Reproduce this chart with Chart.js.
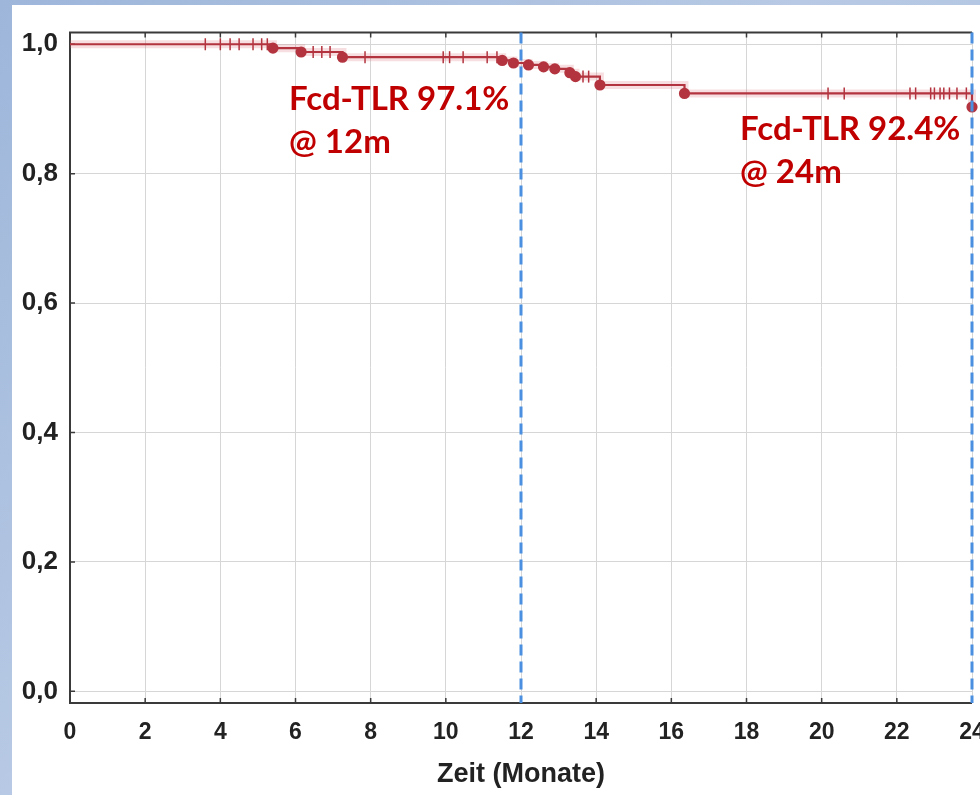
<!DOCTYPE html>
<html>
<head>
<meta charset="utf-8">
<script src="https://cdn.jsdelivr.net/npm/chart.js@4"></script>
<style>
  html, body { margin: 0; padding: 0; }
  body {
    width: 980px; height: 795px; overflow: hidden;
    background: linear-gradient(135deg, #9db6da 0%, #b7c9e4 45%, #a9bfe0 100%);
  }
  #panel { position: absolute; left: 12px; top: 5px; width: 968px; height: 790px; background: #fff; overflow: hidden; }
</style>
</head>
<body>
<div id="panel"><canvas id="km" width="968" height="790"></canvas></div>
<script>
// Kaplan-Meier steps (month of event, survival after it)
const eventMonths = [0, 5.4, 6.15, 7.25, 11.5, 11.8, 12.2, 12.6, 12.9, 13.3, 13.45, 14.1, 16.35, 24];
const survival    = [1.0, 0.994, 0.988, 0.980, 0.975, 0.971, 0.968, 0.965, 0.962, 0.956, 0.950, 0.937, 0.924, 0.903];

// censored observations (months)
const censorMonths = [3.6, 4.0, 4.26, 4.5, 4.87, 5.1, 5.25, 6.47, 6.7, 6.92, 7.85, 9.93, 10.1, 10.46,
  11.1, 11.36, 13.65, 13.8, 20.17, 20.6, 22.35, 22.5, 22.9, 23.0, 23.15, 23.25, 23.4, 23.6, 23.85];

const xTicks = [0, 2, 4, 6, 8, 10, 12, 14, 16, 18, 20, 22, 24];
const yTicks = [0, 0.2, 0.4, 0.6, 0.8, 1.0];

const milestoneMonths = [12, 24];
const milestoneRates = ['Fcd-TLR 97.1%', 'Fcd-TLR 92.4%'];
const milestoneLabels = ['@ 12m', '@ 24m'];

const curveColor = '#b3343f';
const markerBlue = '#4a8fe0';

function survivalAt(t) {
  let s = survival[0];
  for (let i = 0; i < eventMonths.length; i++) {
    if (eventMonths[i] <= t) s = survival[i];
  }
  return s;
}
// value just before the time (for the label at 24)
function survivalBefore(t) {
  let s = survival[0];
  for (let i = 0; i < eventMonths.length; i++) {
    if (eventMonths[i] < t) s = survival[i];
  }
  return s;
}

const kmPoints = eventMonths.map((m, i) => ({ x: m, y: survival[i] }));
const censorPoints = censorMonths.map(m => ({ x: m, y: survivalAt(m) }));

const framePlugin = {
  id: 'frame',
  beforeDatasetsDraw(chart) {
    const { ctx, chartArea: a, scales: { x, y } } = chart;
    ctx.save();
    ctx.strokeStyle = '#3a3a3a';
    ctx.lineWidth = 2;
    ctx.beginPath();
    ctx.moveTo(a.right, a.top); ctx.lineTo(a.left, a.top);
    ctx.lineTo(a.left, a.bottom); ctx.lineTo(a.right, a.bottom);
    ctx.stroke();
    ctx.lineWidth = 1.5;
    ctx.beginPath();
    xTicks.forEach(v => {
      const px = x.getPixelForValue(v);
      ctx.moveTo(px, a.top); ctx.lineTo(px, a.top + 5);
      ctx.moveTo(px, a.bottom); ctx.lineTo(px, a.bottom - 5);
    });
    yTicks.forEach(v => {
      const py = y.getPixelForValue(v);
      ctx.moveTo(a.left, py); ctx.lineTo(a.left + 5, py);
    });
    ctx.stroke();
    ctx.restore();
  },
  afterDatasetsDraw(chart) {
    const { ctx, chartArea: a, scales: { x, y } } = chart;
    ctx.save();
    ctx.strokeStyle = markerBlue;
    ctx.lineWidth = 3;
    ctx.setLineDash([11, 6]);
    milestoneMonths.forEach(m => {
      const px = x.getPixelForValue(m);
      ctx.beginPath();
      ctx.moveTo(px, a.top);
      ctx.lineTo(px, a.bottom);
      ctx.stroke();
    });
    ctx.setLineDash([]);
    ctx.fillStyle = '#c00000';
    ctx.font = 'bold 33px Lato';
    ctx.textBaseline = 'alphabetic';
    milestoneMonths.forEach((m, i) => {
      const px = x.getPixelForValue(m) - 232;
      const py = y.getPixelForValue(survivalBefore(m)) + 47;
      ctx.fillText(milestoneRates[i], px, py);
      ctx.fillText(milestoneLabels[i], px, py + 43);
    });
    ctx.restore();
  }
};

new Chart(document.getElementById('km'), {
  type: 'line',
  data: {
    datasets: [
      {
        data: kmPoints,
        stepped: true,
        borderColor: curveColor,
        borderWidth: 2.2,
        pointRadius: ctx => ctx.dataIndex === 0 ? 0 : 4.5,
        pointBackgroundColor: curveColor,
        pointBorderColor: curveColor,
        clip: false,
        order: 1
      },
      {
        data: kmPoints,
        stepped: true,
        borderColor: 'rgba(220, 110, 120, 0.22)',
        borderWidth: 8,
        pointRadius: 0,
        clip: false,
        order: 3
      },
      {
        data: censorPoints,
        showLine: false,
        pointStyle: 'line',
        rotation: 90,
        pointRadius: 6,
        borderColor: curveColor,
        borderWidth: 1.5,
        clip: false,
        order: 2
      }
    ]
  },
  options: {
    responsive: false,
    animation: false,
    devicePixelRatio: 1,
    layout: { padding: { top: 27, right: 8, left: 0, bottom: 0 } },
    plugins: { legend: { display: false }, tooltip: { enabled: false } },
    scales: {
      x: {
        type: 'linear',
        min: 0,
        max: 24,
        afterBuildTicks: s => { s.ticks = xTicks.map(v => ({ value: v })); },
        afterFit: s => { s.height = 92; s.paddingRight = 0; s.paddingLeft = 0; },
        grid: { color: '#d6d6d6', lineWidth: 1, drawTicks: false },
        border: { display: false },
        ticks: {
          padding: 16,
          color: '#222',
          font: { family: 'Liberation Sans', size: 23, weight: 'bold' },
          maxRotation: 0
        },
        title: {
          display: true,
          text: 'Zeit (Monate)',
          color: '#222',
          font: { family: 'Liberation Sans', size: 27, weight: 'bold' },
          padding: { top: 0, bottom: 4 }
        }
      },
      y: {
        min: -0.018,
        max: 1.018,
        afterBuildTicks: s => { s.ticks = yTicks.map(v => ({ value: v })); },
        afterFit: s => { s.width = 58; },
        grid: { color: '#d6d6d6', lineWidth: 1, drawTicks: false },
        border: { display: false },
        ticks: {
          padding: 12,
          color: '#222',
          font: { family: 'Liberation Sans', size: 26, weight: 'bold' },
          callback: v => v.toFixed(1).replace('.', ',')
        }
      }
    }
  },
  plugins: [framePlugin]
});
</script>
</body>
</html>
